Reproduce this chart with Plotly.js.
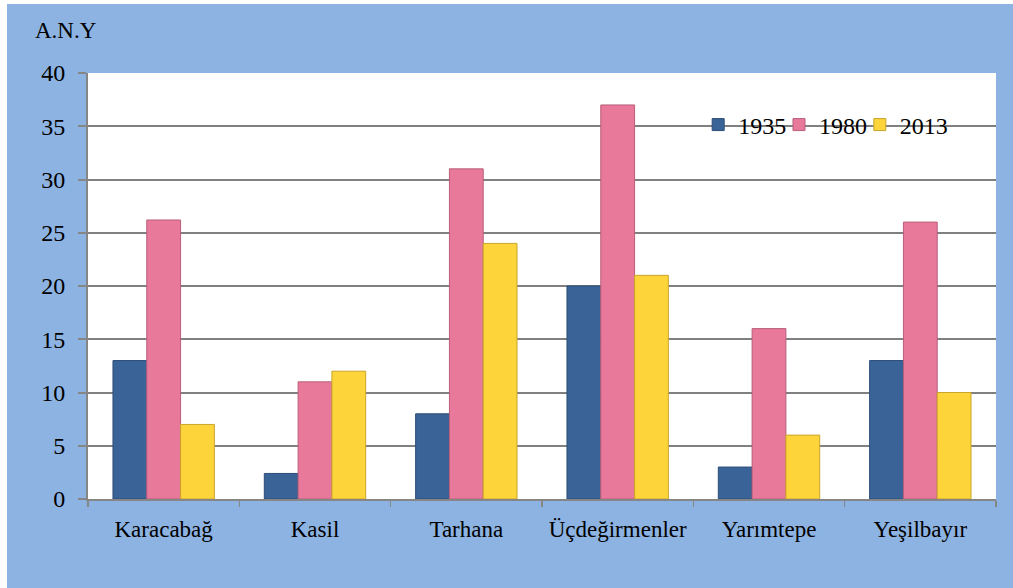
<!DOCTYPE html>
<html>
<head>
<meta charset="utf-8">
<script src="https://cdn.plot.ly/plotly-3.0.1.min.js"></script>
<style>
html,body{margin:0;padding:0;background:#ffffff;width:1013px;height:588px;overflow:hidden;}
#chart{position:absolute;left:7px;top:4px;width:1006px;height:584px;}
</style>
</head>
<body>
<div id="chart"></div>
<script>
const categories = ["Karacabağ", "Kasil", "Tarhana", "Üçdeğirmenler", "Yarımtepe", "Yeşilbayır"];
const seriesNames = ["1935", "1980", "2013"];
const values1935 = [13, 2.4, 8, 20, 3, 13];
const values1980 = [26.2, 11, 31, 37, 16, 26];
const values2013 = [7, 12, 24, 21, 6, 10];
const yTicks = [0, 5, 10, 15, 20, 25, 30, 35, 40];

const FONT = "'Liberation Serif', 'Times New Roman', serif";
const colors = ["#3a6498", "#e8799b", "#fdd43a"];
const lines = ["#2c4d78", "#b85f7b", "#c9a52c"];
const allValues = [values1935, values1980, values2013];
const legendIds = ["legend", "legend2", "legend3"];
const legendX = [0.672, 0.761, 0.850];

const traces = allValues.map((vals, i) => ({
  type: "bar",
  name: seriesNames[i],
  x: categories,
  y: vals,
  legend: legendIds[i],
  marker: {color: colors[i], line: {color: lines[i], width: 1}},
  hoverinfo: "skip"
}));

const layout = {
  width: 1006,
  height: 584,
  paper_bgcolor: "#8db3e2",
  plot_bgcolor: "#ffffff",
  margin: {l: 81, r: 17, t: 69, b: 89, autoexpand: false},
  barmode: "group",
  bargap: 0.33,
  bargroupgap: 0,
  font: {family: FONT, color: "#000000"},
  showlegend: true,
  xaxis: {
    type: "category",
    tickson: "boundaries",
    tickangle: 0,
    ticks: "outside",
    ticklen: 6,
    tickwidth: 1.5,
    tickcolor: "#868686",
    showline: true,
    linecolor: "#868686",
    linewidth: 2,
    showgrid: false,
    tickfont: {size: 23, family: FONT},
    ticklabelstandoff: 8
  },
  yaxis: {
    range: [0, 40],
    tickvals: yTicks,
    ticktext: yTicks.map(String),
    ticks: "outside",
    ticklen: 8,
    tickwidth: 2,
    tickcolor: "#868686",
    showline: true,
    linecolor: "#868686",
    linewidth: 2,
    showgrid: true,
    gridcolor: "#808080",
    gridwidth: 2,
    zeroline: false,
    tickfont: {size: 24, family: FONT},
    ticklabelstandoff: 8
  },
  annotations: [{
    text: "A.N.Y",
    xref: "paper", yref: "paper",
    x: -0.024, y: 1.10,
    xanchor: "center", yanchor: "middle",
    showarrow: false,
    font: {size: 23, family: FONT, color: "#000000"}
  }]
};

legendIds.forEach((id, i) => {
  layout[id] = {
    orientation: "h",
    x: legendX[i], xanchor: "left",
    y: 0.878, yanchor: "middle",
    bgcolor: "rgba(0,0,0,0)",
    font: {size: 24, family: FONT},
    itemwidth: 30
  };
});

Plotly.newPlot("chart", traces, layout, {displayModeBar: false, staticPlot: true});
</script>
</body>
</html>
